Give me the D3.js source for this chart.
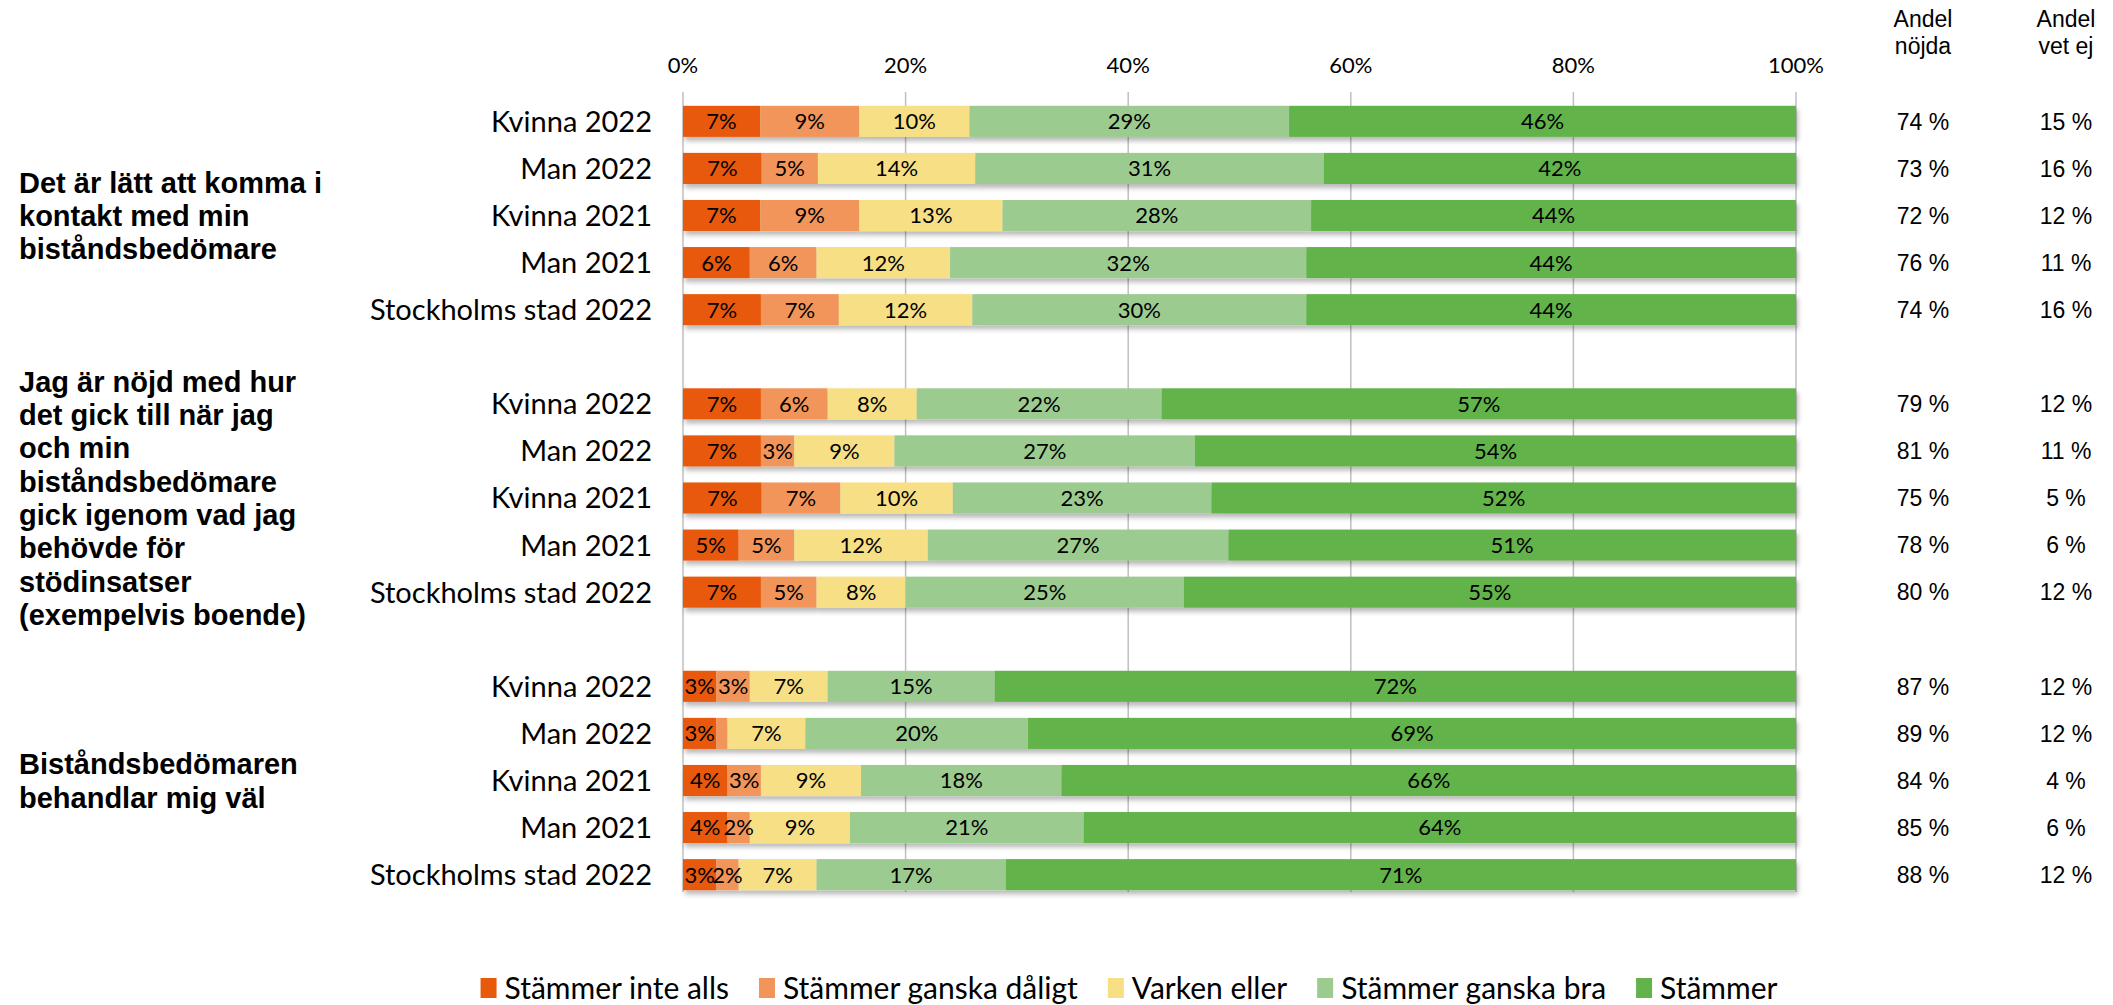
<!DOCTYPE html>
<html>
<head>
<meta charset="utf-8">
<script src="https://cdn.jsdelivr.net/npm/d3@7"></script>
<style>
  body { margin: 0; background: #fff; }
</style>
</head>
<body>
<div class="chart"></div>
<script>
// answer categories (stack order left -> right)
var answers = ["Stämmer inte alls", "Stämmer ganska dåligt", "Varken eller", "Stämmer ganska bra", "Stämmer"];
var colors = ["#E8590C", "#F2955A", "#F6DF85", "#9CCB8F", "#63B34B"];

// question groups, title lines as in the original
var questions = [
  ["Det är lätt att komma i", "kontakt med min", "biståndsbedömare"],
  ["Jag är nöjd med hur", "det gick till när jag", "och min", "biståndsbedömare", "gick igenom vad jag", "behövde för", "stödinsatser", "(exempelvis boende)"],
  ["Biståndsbedömaren", "behandlar mig väl"]
];
var groups = ["Kvinna 2022", "Man 2022", "Kvinna 2021", "Man 2021", "Stockholms stad 2022"];

// percent per answer, one row per group, one block per question
var values = [
  [[7, 9, 10, 29, 46], [7, 5, 14, 31, 42], [7, 9, 13, 28, 44], [6, 6, 12, 32, 44], [7, 7, 12, 30, 44]],
  [[7, 6, 8, 22, 57], [7, 3, 9, 27, 54], [7, 7, 10, 23, 52], [5, 5, 12, 27, 51], [7, 5, 8, 25, 55]],
  [[3, 3, 7, 15, 72], [3, 1, 7, 20, 69], [4, 3, 9, 18, 66], [4, 2, 9, 21, 64], [3, 2, 7, 17, 71]]
];
// side columns
var andelNojda = [[74, 73, 72, 76, 74], [79, 81, 75, 78, 80], [87, 89, 84, 85, 88]];
var andelVetEj = [[15, 16, 12, 11, 16], [12, 11, 5, 6, 12], [12, 12, 4, 6, 12]];
var ticks = [0, 20, 40, 60, 80, 100];

var W = 2113, H = 1005;
var svg = d3.select("div.chart").append("svg")
  .attr("width", W).attr("height", H);

// drop shadow like the excel bars
var defs = svg.append("defs");
defs.append("filter").attr("id", "shadow")
  .attr("x", "-5%").attr("y", "-30%").attr("width", "110%").attr("height", "180%")
  .append("feDropShadow")
  .attr("dx", 2).attr("dy", 4).attr("stdDeviation", 2.5)
  .attr("flood-color", "#000").attr("flood-opacity", 0.28);

// build flat row list, with an empty slot between questions
var rows = [], slots = [];
questions.forEach(function (q, qi) {
  if (qi > 0) slots.push("gap" + qi);
  groups.forEach(function (g, gi) {
    var key = qi + "-" + gi;
    slots.push(key);
    var total = d3.sum(values[qi][gi]);
    var x0 = 0;
    var segs = values[qi][gi].map(function (v, ai) {
      var s = { v: v, ai: ai, x0: x0 / total * 100, x1: (x0 + v) / total * 100 };
      x0 += v;
      return s;
    });
    rows.push({ key: key, qi: qi, gi: gi, label: g, segs: segs,
      nojda: andelNojda[qi][gi], vetej: andelVetEj[qi][gi] });
  });
});

var x = d3.scaleLinear().domain([0, 100]).range([683, 1796]);
var y = d3.scaleBand().domain(slots).range([97.8, 898.2]).paddingInner(0.34).paddingOuter(0.17);

// gridlines
svg.append("g").selectAll("line").data(ticks).enter().append("line")
  .attr("x1", function (d) { return x(d); }).attr("x2", function (d) { return x(d); })
  .attr("y1", 92).attr("y2", 892)
  .style("stroke", "#BFBFBF").style("stroke-width", 1.5);

// top tick labels
svg.append("g").selectAll("text").data(ticks).enter().append("text")
  .attr("x", function (d) { return x(d); }).attr("y", 73)
  .attr("text-anchor", "middle")
  .style("font-family", "Lato, sans-serif").style("font-size", "22px").style("fill", "#000")
  .text(function (d) { return d + "%"; });

// bars
var rowG = svg.append("g").selectAll("g.row").data(rows).enter().append("g")
  .attr("class", "row")
  .attr("transform", function (d) { return "translate(0," + y(d.key) + ")"; });

rowG.append("g").attr("filter", "url(#shadow)")
  .selectAll("rect").data(function (d) { return d.segs; }).enter().append("rect")
  .attr("x", function (d) { return x(d.x0); })
  .attr("width", function (d) { return x(d.x1) - x(d.x0); })
  .attr("height", y.bandwidth())
  .style("fill", function (d) { return colors[d.ai]; });

rowG.selectAll("text.val").data(function (d) { return d.segs.filter(function (s) { return s.v >= 2; }); })
  .enter().append("text").attr("class", "val")
  .attr("x", function (d) { return (x(d.x0) + x(d.x1)) / 2; })
  .attr("y", y.bandwidth() / 2)
  .attr("dy", "0.36em")
  .attr("text-anchor", "middle")
  .style("font-family", "Lato, sans-serif").style("font-size", "22px").style("fill", "#000")
  .text(function (d) { return d.v + "%"; });

// category labels
rowG.append("text")
  .attr("x", 652).attr("y", y.bandwidth() / 2).attr("dy", "0.36em")
  .attr("text-anchor", "end")
  .style("font-family", "Lato, sans-serif").style("font-size", "29px").style("fill", "#000")
  .text(function (d) { return d.label; });

// side columns
var colFont = "'Liberation Sans', Arial, sans-serif";
rowG.append("text")
  .attr("x", 1923).attr("y", y.bandwidth() / 2).attr("dy", "0.36em")
  .attr("text-anchor", "middle")
  .style("font-family", colFont).style("font-size", "23px").style("fill", "#000")
  .text(function (d) { return d.nojda + " %"; });
rowG.append("text")
  .attr("x", 2066).attr("y", y.bandwidth() / 2).attr("dy", "0.36em")
  .attr("text-anchor", "middle")
  .style("font-family", colFont).style("font-size", "23px").style("fill", "#000")
  .text(function (d) { return d.vetej + " %"; });

[["Andel", "nöjda", 1923], ["Andel", "vet ej", 2066]].forEach(function (h) {
  var t = svg.append("text").attr("text-anchor", "middle")
    .style("font-family", colFont).style("font-size", "23px").style("fill", "#000");
  t.append("tspan").attr("x", h[2]).attr("y", 27).text(h[0]);
  t.append("tspan").attr("x", h[2]).attr("y", 54).text(h[1]);
});

// question titles, centred on the middle row of each block
var lineH = 33.3;
questions.forEach(function (lines, qi) {
  var mid = y(qi + "-2") + y.bandwidth() / 2;
  var top = mid - (lines.length - 1) * lineH / 2;
  var t = svg.append("text")
    .style("font-family", "'Liberation Sans', Arial, sans-serif").style("font-weight", "bold")
    .style("font-size", "29px").style("fill", "#000");
  lines.forEach(function (l, i) {
    t.append("tspan").attr("x", 19).attr("y", top + i * lineH).attr("dy", "0.36em").text(l);
  });
});

// legend
var legend = svg.append("g");
var lx = 0, gap = 30;
answers.forEach(function (a, i) {
  var item = legend.append("g").attr("transform", "translate(" + lx + ",0)");
  item.append("rect").attr("x", 0).attr("y", -10).attr("width", 16).attr("height", 20)
    .style("fill", colors[i]);
  var txt = item.append("text").attr("x", 24).attr("dy", "0.36em")
    .style("font-family", "Lato, sans-serif").style("font-size", "30px").style("fill", "#000")
    .text(a);
  lx += 24 + txt.node().getComputedTextLength() + gap;
});
lx -= gap;
legend.attr("transform", "translate(" + (1129 - lx / 2) + ",988)");
</script>
</body>
</html>
